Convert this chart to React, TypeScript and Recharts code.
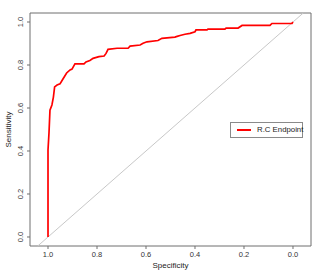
import { LineChart, Line, XAxis, YAxis, ReferenceLine, ReferenceArea, Legend } from 'recharts'

// ROC curve (specificity descending)
const specificity = [
  1.0, 1.0, 0.996, 0.992, 0.984, 0.978, 0.973, 0.963, 0.951, 0.939, 0.924, 0.91, 0.902, 0.89, 0.853,
  0.845, 0.829, 0.816, 0.792, 0.771, 0.763, 0.755, 0.718, 0.673, 0.665, 0.624, 0.612, 0.596, 0.551,
  0.535, 0.482, 0.473, 0.461, 0.441, 0.42, 0.4, 0.396, 0.351, 0.347, 0.278, 0.273, 0.224, 0.208,
  0.094, 0.086, 0.004, 0.0,
]
const sensitivity = [
  0.0, 0.405, 0.484, 0.59, 0.614, 0.651, 0.698, 0.707, 0.712, 0.735, 0.763, 0.777, 0.781, 0.805, 0.805,
  0.814, 0.821, 0.831, 0.839, 0.842, 0.854, 0.873, 0.878, 0.878, 0.888, 0.893, 0.901, 0.908, 0.914,
  0.924, 0.93, 0.933, 0.937, 0.943, 0.947, 0.955, 0.963, 0.963, 0.967, 0.967, 0.972, 0.972, 0.984,
  0.984, 0.993, 0.994, 1.0,
]
const ticks = [0, 0.2, 0.4, 0.6, 0.8, 1.0]
const seriesName = 'R.C Endpoint'

const X_MIN = -0.0735
const X_MAX = 1.0735
const Y_MIN = -0.0419
const Y_MAX = 1.0419

const rocData = specificity.map((s, i) => ({ spec: s, sens: sensitivity[i] }))

const FONT = '"Liberation Sans", Arial, sans-serif'
const BOX = '#6f6f6f'

function YTick({ y, payload }: any) {
  return (
    <text x={21} y={y} transform={`rotate(-90 21 ${y})`} textAnchor="middle" dominantBaseline="central" fontSize={7.5} fill="#333">
      {Number(payload.value).toFixed(1)}
    </text>
  )
}

function YTitle({ viewBox }: any) {
  const cy = viewBox.y + viewBox.height / 2
  return (
    <text x={8} y={cy} transform={`rotate(-90 8 ${cy})`} textAnchor="middle" dominantBaseline="central" fontSize={8} fill="#222">
      Sensitivity
    </text>
  )
}

function XTitle({ viewBox }: any) {
  return (
    <text x={viewBox.x + viewBox.width / 2} y={265} textAnchor="middle" dominantBaseline="central" fontSize={8} fill="#222">
      Specificity
    </text>
  )
}

function LegendBox() {
  return (
    <div style={{ width: 71, height: 14, border: '1px solid #8a8a8a', position: 'relative', fontFamily: FONT, background: '#fff' }}>
      <div style={{ position: 'absolute', left: 6, top: 6, width: 14, height: 2, background: '#ff0000' }} />
      <div style={{ position: 'absolute', left: 26, top: 0, lineHeight: '14px', fontSize: 7.8, color: '#222', whiteSpace: 'nowrap' }}>
        {seriesName}
      </div>
    </div>
  )
}

export default function App() {
  return (
    <div style={{ position: 'absolute', left: 0, top: 0, width: 327, height: 273, background: '#fff' }}>
      <LineChart width={327} height={273} data={rocData} margin={{ top: 13, right: 16, bottom: 0, left: 0 }} style={{ fontFamily: FONT }}>
        <XAxis
          dataKey="spec"
          type="number"
          reversed
          domain={[X_MIN, X_MAX]}
          allowDataOverflow
          ticks={ticks}
          tickFormatter={(v: number) => v.toFixed(1)}
          height={27}
          axisLine={false}
          tickLine={{ stroke: BOX }}
          tickSize={3}
          tickMargin={3}
          tick={{ fontSize: 7.5, fill: '#333' }}
          label={<XTitle />}
        />
        <YAxis
          dataKey="sens"
          type="number"
          domain={[Y_MIN, Y_MAX]}
          allowDataOverflow
          ticks={ticks}
          width={30}
          axisLine={false}
          tickLine={{ stroke: BOX }}
          tickSize={3}
          tick={<YTick />}
          label={<YTitle />}
        />
        <ReferenceLine
          segment={[{ x: 1 - Y_MIN, y: Y_MIN }, { x: 1 - Y_MAX, y: Y_MAX }]}
          stroke="#c8c8c8"
          strokeWidth={1}
          ifOverflow="visible"
        />
        <Line
          type="linear"
          dataKey="sens"
          name={seriesName}
          stroke="#ff0000"
          strokeWidth={1.7}
          dot={false}
          isAnimationActive={false}
        />
        <ReferenceArea x1={X_MIN} x2={X_MAX} y1={Y_MIN} y2={Y_MAX} fill="none" stroke={BOX} strokeWidth={1} ifOverflow="visible" />
        <Legend
          layout="horizontal"
          verticalAlign="middle"
          align="center"
          content={<LegendBox />}
          wrapperStyle={{ position: 'absolute', left: 230, top: 122, width: 73, height: 16 }}
        />
      </LineChart>
    </div>
  )
}
